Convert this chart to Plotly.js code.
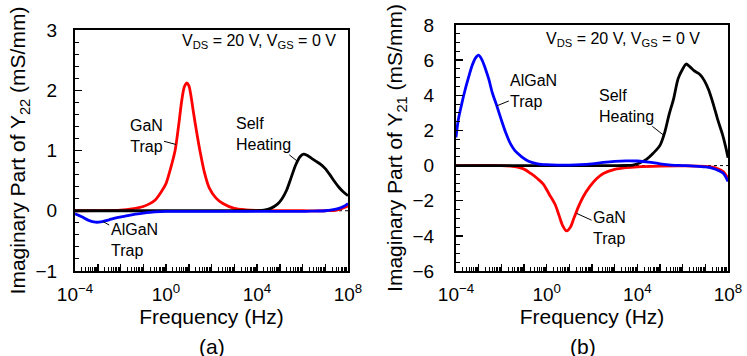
<!DOCTYPE html>
<html>
<head>
<meta charset="utf-8">
<script src="https://cdn.plot.ly/plotly-3.0.1.min.js"></script>
<style>html,body{margin:0;padding:0;background:#fff;}#chart{width:747px;height:356px;}</style>
</head>
<body>
<div id="chart"></div>
<script>
// ---- Data (frequency given as log10 of Hz) ----
// (a) Imaginary part of Y22
const y22GanLogF   = [-4,-3,-2,-1.5,-1,-0.5,-0.2,0,0.2,0.4,0.55,0.7,0.8,0.9,1.0,1.1,1.2,1.35,1.5,1.7,1.9,2.2,2.5,3,3.5,4,5,6,7,7.5,8];
const y22GanVal    = [0,0.002,0.01,0.03,0.07,0.17,0.32,0.45,0.7,1.0,1.4,1.85,2.05,2.12,2.08,1.9,1.65,1.3,0.98,0.62,0.38,0.21,0.12,0.04,0.015,0.005,0,0,0,0.01,0.08];
const y22HeatLogF  = [-4,0,2,3,3.5,4,4.3,4.6,4.9,5.1,5.3,5.5,5.7,5.9,6.05,6.2,6.4,6.6,6.8,7.0,7.2,7.4,7.6,7.8,8];
const y22HeatVal   = [0,0,0,0,0,0.002,0.01,0.04,0.11,0.2,0.34,0.55,0.76,0.9,0.94,0.92,0.87,0.82,0.77,0.7,0.6,0.49,0.39,0.31,0.25];
const y22AlganLogF = [-4,-3.7,-3.4,-3.1,-2.8,-2.5,-2.2,-1.8,-1.4,-1,-0.5,0,1,2,3,4,5,6,6.5,7,7.3,7.6,7.8,8];
const y22AlganVal  = [-0.05,-0.1,-0.16,-0.19,-0.18,-0.15,-0.12,-0.09,-0.06,-0.04,-0.02,-0.01,-0.01,-0.01,-0.01,-0.01,-0.01,-0.01,-0.005,0,0.015,0.04,0.07,0.12];
// (b) Imaginary part of Y21
const y21GanLogF   = [-4,-2,-1.5,-1,-0.7,-0.4,-0.15,0.1,0.37,0.55,0.7,0.88,1.05,1.2,1.4,1.6,1.9,2.2,2.5,3,3.5,4,5,6,7,7.5,7.8,8];
const y21GanVal    = [0,0,-0.05,-0.2,-0.45,-0.75,-1.05,-1.6,-2.2,-2.85,-3.4,-3.72,-3.5,-3.0,-2.35,-1.8,-1.2,-0.75,-0.45,-0.22,-0.12,-0.07,-0.03,-0.02,-0.05,-0.15,-0.35,-0.75];
const y21HeatLogF  = [-4,0,2,3,3.5,3.8,4.1,4.4,4.7,5.0,5.2,5.4,5.6,5.8,6.0,6.15,6.3,6.5,6.75,6.95,7.15,7.35,7.55,7.75,7.9,8];
const y21HeatVal   = [0,0,0,0,0.005,0.03,0.15,0.35,0.7,1.15,1.85,2.9,3.8,4.95,5.5,5.78,5.65,5.4,5.2,4.85,4.3,3.5,2.6,1.8,1.05,0.45];
const y21AlganLogF = [-4,-3.9,-3.75,-3.6,-3.45,-3.3,-3.15,-3.0,-2.85,-2.7,-2.55,-2.4,-2.2,-2.0,-1.8,-1.6,-1.4,-1.1,-0.8,-0.4,0,0.5,1,1.5,2,2.5,3,3.5,4,4.5,5,5.5,6,6.5,7,7.3,7.6,7.8,8];
const y21AlganVal  = [1.6,2.6,3.5,4.3,5.0,5.65,6.1,6.28,6.0,5.5,4.9,4.15,3.4,2.6,1.85,1.25,0.85,0.5,0.25,0.1,0.05,0.03,0.03,0.05,0.1,0.18,0.24,0.27,0.26,0.2,0.1,0.03,0,-0.03,-0.08,-0.15,-0.3,-0.45,-0.9];

// Ticks
const xDecades     = [-4,-3,-2,-1,0,1,2,3,4,5,6,7,8];
const xTickLabels  = ['10<sup>\u22124</sup>','','','','10<sup>0</sup>','','','','10<sup>4</sup>','','','','10<sup>8</sup>'];
const yRangeA = [-1,3], yRangeB = [-6,8];

const FONT = 'Liberation Sans, Arial, Helvetica, sans-serif';
const RED = '#ff0000', BLUE = '#0000ff', BLACK = '#000000';

const hz = a => a.map(e => Math.pow(10, e));
const majorVals = xDecades.map(d => Math.pow(10, d));
const minorVals = [];
xDecades.slice(0, -1).forEach(d => { for (let k = 2; k <= 9; k++) minorVals.push(k * Math.pow(10, d)); });

function tr(lx, v, color, xa, ya) {
  return {x: hz(lx), y: v, xaxis: xa, yaxis: ya, type: 'scatter', mode: 'lines',
          line: {color: color, width: 2.8, shape: 'spline', smoothing: 0.8},
          hoverinfo: 'skip', showlegend: false};
}
const data = [
  tr(y22GanLogF, y22GanVal, RED, 'x', 'y'),
  tr(y22HeatLogF, y22HeatVal, BLACK, 'x', 'y'),
  tr(y22AlganLogF, y22AlganVal, BLUE, 'x', 'y'),
  tr(y21GanLogF, y21GanVal, RED, 'x2', 'y2'),
  tr(y21HeatLogF, y21HeatVal, BLACK, 'x2', 'y2'),
  tr(y21AlganLogF, y21AlganVal, BLUE, 'x2', 'y2')
];

function xAxis(domain, anchor) {
  return {domain: domain, anchor: anchor, type: 'log', range: [-4, 8],
    tickmode: 'array', tickvals: majorVals, ticktext: xTickLabels,
    ticks: 'inside', ticklen: 7, tickwidth: 1.5, tickcolor: BLACK,
    minor: {tickmode: 'array', tickvals: minorVals, ticks: 'inside', ticklen: 4, tickwidth: 1, tickcolor: BLACK},
    showline: true, linewidth: 2, linecolor: BLACK, mirror: true,
    showgrid: false, zeroline: false, ticklabelstandoff: 5,
    tickfont: {family: FONT, size: 19, color: BLACK},
    title: {text: 'Frequency (Hz)', font: {family: FONT, size: 21, color: BLACK}, standoff: 5}};
}
function yAxis(domain, anchor, range, dtick, mdtick, titleText, standoff) {
  return {domain: domain, anchor: anchor, range: range, dtick: dtick, tick0: 0,
    ticks: 'inside', ticklen: 7, tickwidth: 1.5, tickcolor: BLACK,
    minor: {dtick: mdtick, tick0: 0, ticks: 'inside', ticklen: 4, tickwidth: 1, tickcolor: BLACK},
    showline: true, linewidth: 2, linecolor: BLACK, mirror: true,
    showgrid: false, zeroline: false, ticklabelstandoff: standoff,
    tickfont: {family: FONT, size: 19, color: BLACK},
    title: {text: titleText, font: {family: FONT, size: 21, color: BLACK}, standoff: 4}};
}

const yDomA = [1 - 271/356, 1 - 30/356];
const yDomB = [1 - 271/356, 1 - 25/356];

function label(text, xref, yref, x, y, ax, ay, align) {
  return {text: text, xref: xref, yref: yref, x: x, y: y, ax: ax, ay: ay,
    showarrow: true, arrowhead: 0, arrowwidth: 1, arrowcolor: BLACK, standoff: 0, startstandoff: 0,
    align: align, font: {family: FONT, size: 16, color: BLACK}};
}
function note(text, x, y, size) {
  return {text: text, xref: 'paper', yref: 'paper', x: x, y: y, showarrow: false,
    xanchor: 'center', yanchor: 'middle', font: {family: FONT, size: size, color: BLACK}};
}

const layout = {
  width: 747, height: 356, margin: {l: 0, r: 0, t: 0, b: 0},
  paper_bgcolor: '#fff', plot_bgcolor: '#fff', showlegend: false,
  xaxis: xAxis([75/747, 348/747], 'y'),
  yaxis: yAxis(yDomA, 'x', yRangeA, 1, 0.2, 'Imaginary Part of Y<sub>22</sub> (mS/mm)', 12),
  xaxis2: xAxis([456/747, 728/747], 'y2'),
  yaxis2: yAxis(yDomB, 'x2', yRangeB, 2, 0.5, 'Imaginary Part of Y<sub>21</sub> (mS/mm)', 16),
  shapes: [
    {type: 'line', xref: 'x domain', yref: 'y', x0: 0, x1: 1, y0: 0, y1: 0, layer: 'below', line: {color: BLACK, width: 1, dash: 'dot'}},
    {type: 'line', xref: 'x2 domain', yref: 'y2', x0: 0, x1: 1, y0: 0, y1: 0, layer: 'below', line: {color: BLACK, width: 1, dash: 'dot'}}
  ],
  annotations: [
    label('GaN<br>Trap', 'x', 'y', 0.44, 1.1, -30, -8, 'center'),
    label('Self<br>Heating', 'x', 'y', 5.78, 0.82, -34, -27, 'left'),
    label('AlGaN<br>Trap', 'x', 'y', -2.76, -0.18, 31, 18, 'left'),
    label('AlGaN<br>Trap', 'x2', 'y2', -2.2, 3.4, 37, -15, 'left'),
    label('Self<br>Heating', 'x2', 'y2', 5.14, 1.75, -37, -29, 'left'),
    label('GaN<br>Trap', 'x2', 'y2', 1.32, -2.72, 33, 15, 'left'),
    note('V<sub>DS</sub> = 20 V, V<sub>GS</sub> = 0 V', 259/747, 1 - 42/356, 16),
    note('V<sub>DS</sub> = 20 V, V<sub>GS</sub> = 0 V', 623/747, 1 - 39.5/356, 16),
    note('(a)', 212/747, 1 - 346/356, 21),
    note('(b)', 583/747, 1 - 346/356, 21)
  ]
};

Plotly.newPlot('chart', data, layout, {displayModeBar: false, staticPlot: true});
</script>
</body>
</html>
